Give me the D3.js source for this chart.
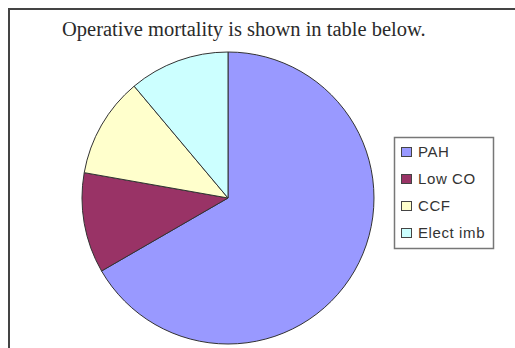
<!DOCTYPE html>
<html>
<head>
<meta charset="utf-8">
<script src="https://cdn.jsdelivr.net/npm/d3@7"></script>
<style>
  body { margin: 0; background: #fff; }
</style>
</head>
<body>
<div id="chart"></div>
<script>
var causes = ['PAH', 'Low CO', 'CCF', 'Elect imb'];
var deaths = [6, 1, 1, 1];
var colours = ['#9999ff', '#993366', '#ffffcc', '#ccffff'];
var title = 'Operative mortality is shown in table below.';

var w = 515;
var h = 348;

var svg = d3.select('#chart')
	.append('svg')
	.attr('width', w)
	.attr('height', h);

// outer frame, runs off the right and bottom edges
svg.append('path')
	.attr('d', 'M9,' + (h + 2) + 'V9H' + (w + 2))
	.attr('fill', 'none')
	.attr('stroke', '#444')
	.attr('stroke-width', 2);

svg.append('text')
	.text(title)
	.attr('x', 62)
	.attr('y', 36)
	.attr('font-family', 'Liberation Serif, Times New Roman, serif')
	.attr('font-size', '20.5px')
	.attr('fill', '#2a2a2a');

var data = causes.map(function (c, i) { return { cause: c, n: deaths[i] }; });

var pie = d3.pie()
	.value(function (d) { return d.n; })
	.sort(null);

var arc = d3.arc()
	.innerRadius(0)
	.outerRadius(146);

var g = svg.append('g')
	.attr('transform', 'translate(228,198)');

g.selectAll('path')
	.data(pie(data))
	.enter()
	.append('path')
	.attr('d', arc)
	.attr('fill', function (d, i) { return colours[i]; })
	.attr('stroke', '#333')
	.attr('stroke-width', 1);

// legend
var legend = svg.append('g')
	.attr('transform', 'translate(394,137)');

legend.append('rect')
	.attr('x', 0.5)
	.attr('y', 0.5)
	.attr('width', 99)
	.attr('height', 111)
	.attr('fill', '#fff')
	.attr('stroke', '#777')
	.attr('stroke-width', 1.5);

var items = legend.selectAll('g.item')
	.data(causes)
	.enter()
	.append('g')
	.attr('class', 'item')
	.attr('transform', function (d, i) { return 'translate(7,' + (15 + i * 27) + ')'; });

items.append('rect')
	.attr('x', 0.5)
	.attr('y', -4.5)
	.attr('width', 10)
	.attr('height', 9)
	.attr('fill', function (d, i) { return colours[i]; })
	.attr('stroke', '#444')
	.attr('stroke-width', 1);

items.append('text')
	.text(function (d) { return d; })
	.attr('x', 17)
	.attr('y', 0)
	.attr('dy', '.36em')
	.attr('font-family', 'Liberation Sans, Arial, sans-serif')
	.attr('font-size', '15px')
	.attr('letter-spacing', '0.6px')
	.attr('fill', '#333');
</script>
</body>
</html>
